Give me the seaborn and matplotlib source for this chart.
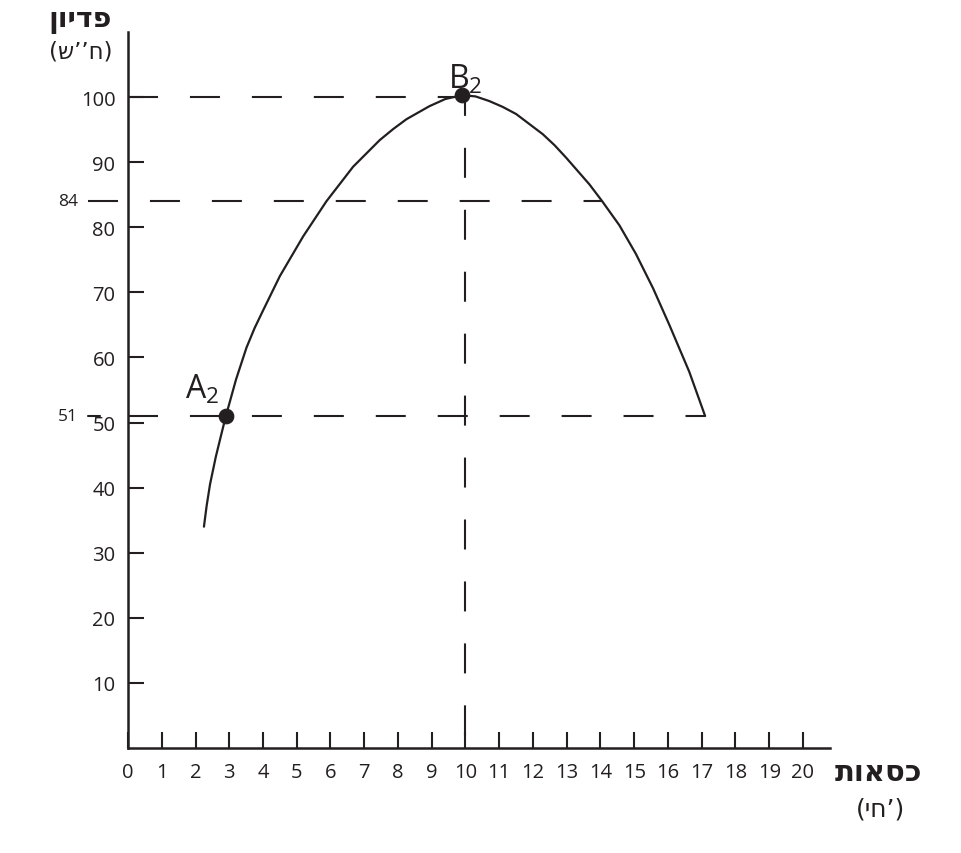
import matplotlib
matplotlib.use("Agg")
import matplotlib.pyplot as plt
import seaborn as sns
import pandas as pd

# revenue curve
chairs = [2.25, 2.33, 2.43, 2.6, 2.77, 2.9, 3.2, 3.51, 3.75, 4.0, 4.5, 5.19, 5.88, 6.67, 7.46,
          7.86, 8.25, 8.93, 9.4, 9.9, 10.3, 10.7, 11.1, 11.5, 12.29, 12.64, 12.98, 13.67,
          14.05, 14.56, 15.05, 15.56, 16.04, 16.63, 17.1]
revenue = [34, 37.2, 40.5, 44.7, 48.3, 51, 56.6, 61.5, 64.5, 67.2, 72.5, 78.6, 84, 89.3, 93.4,
           95.1, 96.6, 98.6, 99.7, 100.3, 100.1, 99.4, 98.5, 97.4, 94.3, 92.6, 90.7, 86.6,
           84, 80.3, 75.9, 70.6, 65.0, 57.8, 51]

# marked points
point_names = ["A", "B"]
point_x = [2.9, 9.9]
point_y = [51, 100.3]

# guide lines: value level and where it ends on the curve
guide_levels = [100, 84, 51]
guide_ends = [10, 14.05, 17.1]
peak_x = 10

x_ticks = list(range(0, 21))
y_ticks = list(range(10, 101, 10))

INK = "#231f20"

sns.set_theme(style="white")
plt.rcParams["font.family"] = ["Open Sans", "DejaVu Sans"]
plt.rcParams["mathtext.default"] = "regular"
plt.rcParams["lines.scale_dashes"] = False

fig = plt.figure(figsize=(9.62, 8.54), dpi=100)
ax = fig.add_axes([128 / 962, 105 / 854, 702 / 962, 716 / 854])

curve = pd.DataFrame({"chairs": chairs, "revenue": revenue})
sns.lineplot(data=curve, x="chairs", y="revenue", sort=False, color=INK, linewidth=1.6, ax=ax)

dash = (0, (21.6, 23))
hebrew = ["DejaVu Sans"]

# horizontal guides
ax.plot([0, guide_ends[0]], [guide_levels[0]] * 2, color=INK, lw=1.5, linestyle=dash)
ax.plot([-1.19, guide_ends[1]], [guide_levels[1]] * 2, color=INK, lw=1.5, linestyle=dash, clip_on=False)
ax.plot([-1.19, -0.83], [guide_levels[2]] * 2, color=INK, lw=1.5, clip_on=False)
ax.plot([0, guide_ends[2]], [guide_levels[2]] * 2, color=INK, lw=1.5, linestyle=dash)
# vertical guide at the peak
ax.plot([peak_x, peak_x], [guide_levels[0], 0], color=INK, lw=1.5, linestyle=(8, (21.6, 23)))

pts = pd.DataFrame({"x": point_x, "y": point_y})
sns.scatterplot(data=pts, x="x", y="y", s=110, color=INK, edgecolor=INK, zorder=5, ax=ax)

ax.text(2.2, 53.8, r"$A_2$", fontsize=23, color=INK, ha="center", va="baseline")
ax.text(10.0, 101.4, r"$B_2$", fontsize=23, color=INK, ha="center", va="baseline")

for lvl in guide_levels[1:]:
    ax.text(-1.48, lvl, str(lvl), fontsize=12.5, color=INK, ha="right", va="center", clip_on=False)

ax.set_xlim(0, 20.8)
ax.set_ylim(0, 110)
ax.set_xticks(x_ticks)
ax.set_xticklabels([str(t) for t in x_ticks])
ax.set_yticks(y_ticks)
ax.set_yticklabels([str(t) for t in y_ticks])
ax.tick_params(axis="both", direction="in", length=11.5, width=1.5, color=INK,
               labelcolor=INK, labelsize=14.5, bottom=True, left=True)
ax.tick_params(axis="x", pad=10)
ax.tick_params(axis="y", pad=9)
ax.set_xlabel("")
ax.set_ylabel("")

sns.despine(ax=ax)
for side in ["left", "bottom"]:
    ax.spines[side].set_linewidth(1.8)
    ax.spines[side].set_color(INK)

# Hebrew axis titles (letters in visual order, matplotlib has no bidi)
fig.text(80 / 962, 1 - 20 / 854, "ןוידפ", family=hebrew, fontweight="bold", fontsize=20.5,
         color=INK, ha="center", va="center")
fig.text(81 / 962, 1 - 52 / 854, "(ש’’ח)", family=hebrew, fontsize=16.5,
         color=INK, ha="center", va="center")
fig.text(878 / 962, 1 - 773 / 854, "תואסכ", family=hebrew, fontweight="bold", fontsize=21,
         color=INK, ha="center", va="center")
fig.text(880 / 962, 1 - 810 / 854, "(יח’)", family=hebrew, fontsize=18,
         color=INK, ha="center", va="center")

fig.savefig("out.png", dpi=100)
